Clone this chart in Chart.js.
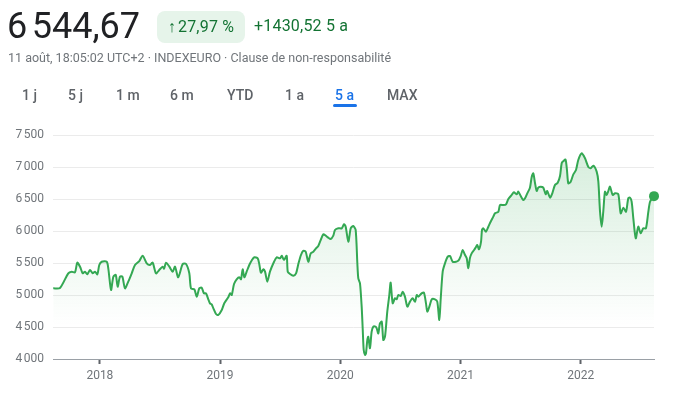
<!DOCTYPE html>
<html lang="fr">
<head>
<meta charset="utf-8">
<script src="https://cdn.jsdelivr.net/npm/chart.js@4.4.1/dist/chart.umd.min.js"></script>
<style>
  html, body { margin: 0; padding: 0; background: #fff; }
  body { width: 677px; height: 398px; position: relative; overflow: hidden; font-family: Roboto, "Noto Sans", Arial, sans-serif; }
  #chart { position: absolute; left: 0; top: 0; }
  .price { position: absolute; left: 7px; top: 4px; font-size: 36px; color: #202124; letter-spacing: -0.2px; line-height: 44px; }
  .badge { position: absolute; left: 157px; top: 11px; width: 88px; height: 32px; border-radius: 8px; background: #e6f4ea; color: #137333; font-size: 16px; line-height: 32px; text-align: center; letter-spacing: 0.2px; }
  .badge b { font-weight: 700; margin-right: 2px; }
  .delta { position: absolute; left: 254px; top: 16px; font-size: 16px; color: #137333; line-height: 20px; letter-spacing: 0.2px; }
  .sub { position: absolute; left: 8px; top: 50px; font-size: 12.5px; color: #70757a; line-height: 16px; }
  .tab { position: absolute; top: 86px; font-size: 14px; font-weight: 500; color: #5f6368; line-height: 18px; }
  .tab.on { color: #1a73e8; }
  .uline { position: absolute; left: 333px; top: 104px; width: 24px; height: 3px; border-radius: 2px; background: #1a73e8; }
</style>
</head>
<body>
<canvas id="chart" width="677" height="398"></canvas>
<div class="price">6&#x202F;544,67</div>
<div class="badge"><b>&#x2191;</b>27,97 %</div>
<div class="delta">+1430,52 5 a</div>
<div class="sub">11 août, 18:05:02 UTC+2 · INDEXEURO · Clause de non-responsabilité</div>
<div class="tab" style="left:22px">1 j</div>
<div class="tab" style="left:68px">5 j</div>
<div class="tab" style="left:116px">1 m</div>
<div class="tab" style="left:170px">6 m</div>
<div class="tab" style="left:227px">YTD</div>
<div class="tab" style="left:285px">1 a</div>
<div class="tab on" style="left:335px">5 a</div>
<div class="tab" style="left:387px">MAX</div>
<div class="uline"></div>
<script>
// Dates as decimal years (11 Aug 2017 .. 11 Aug 2022)
const dates = [
  2017.612,2017.668,2017.737,2017.766,2017.793,2017.812,2017.835,2017.857,2017.876,2017.895,
  2017.918,2017.940,2017.959,2017.979,2017.995,2018.015,2018.057,2018.070,2018.093,2018.112,
  2018.132,2018.148,2018.167,2018.187,2018.209,2018.236,2018.265,2018.292,2018.328,2018.356,
  2018.390,2018.417,2018.439,2018.467,2018.494,2018.523,2018.534,2018.550,2018.578,2018.606,
  2018.625,2018.652,2018.689,2018.717,2018.744,2018.758,2018.786,2018.806,2018.827,2018.847,
  2018.866,2018.883,2018.902,2018.916,2018.930,2018.944,2018.966,2018.985,2019.014,2019.035,
  2019.068,2019.083,2019.097,2019.116,2019.138,2019.160,2019.174,2019.188,2019.202,2019.221,
  2019.243,2019.263,2019.285,2019.313,2019.326,2019.340,2019.360,2019.374,2019.393,2019.415,
  2019.449,2019.471,2019.499,2019.513,2019.532,2019.554,2019.563,2019.582,2019.609,2019.632,
  2019.651,2019.673,2019.692,2019.712,2019.734,2019.754,2019.776,2019.798,2019.817,2019.837,
  2019.859,2019.879,2019.900,2019.920,2019.942,2019.956,2019.984,2020.012,2020.031,2020.045,
  2020.067,2020.087,2020.108,2020.128,2020.142,2020.150,2020.164,2020.178,2020.187,2020.195,
  2020.206,2020.214,2020.225,2020.233,2020.247,2020.261,2020.275,2020.293,2020.303,2020.316,
  2020.330,2020.345,2020.358,2020.372,2020.391,2020.408,2020.419,2020.436,2020.455,2020.469,
  2020.483,2020.503,2020.519,2020.538,2020.558,2020.580,2020.602,2020.622,2020.636,2020.649,
  2020.677,2020.696,2020.713,2020.724,2020.741,2020.761,2020.788,2020.807,2020.824,2020.835,
  2020.852,2020.871,2020.894,2020.913,2020.935,2020.963,2020.982,2021.002,2021.018,2021.038,
  2021.052,2021.065,2021.079,2021.093,2021.113,2021.129,2021.140,2021.154,2021.171,2021.179,
  2021.190,2021.212,2021.232,2021.251,2021.273,2021.287,2021.315,2021.329,2021.356,2021.379,
  2021.398,2021.426,2021.445,2021.468,2021.481,2021.501,2021.523,2021.537,2021.556,2021.578,
  2021.593,2021.606,2021.620,2021.634,2021.647,2021.667,2021.689,2021.709,2021.722,2021.745,
  2021.764,2021.786,2021.809,2021.828,2021.842,2021.855,2021.874,2021.886,2021.897,2021.917,
  2021.939,2021.961,2021.980,2022.009,2022.036,2022.063,2022.083,2022.105,2022.133,2022.147,
  2022.161,2022.175,2022.188,2022.202,2022.216,2022.230,2022.244,2022.266,2022.286,2022.313,
  2022.333,2022.355,2022.377,2022.396,2022.410,2022.424,2022.438,2022.458,2022.479,2022.499,
  2022.521,2022.543,2022.563,2022.577,2022.604,2022.610
];
// Index level (EURO STOXX 50)
const closes = [
  5105,5110,5339,5364,5354,5505,5442,5339,5364,5323,
  5391,5339,5364,5323,5469,5520,5520,5417,5078,5286,
  5313,5130,5286,5286,5104,5208,5339,5469,5530,5615,
  5495,5469,5505,5339,5391,5443,5411,5505,5443,5364,
  5443,5276,5484,5484,5339,5104,5088,4974,5104,5114,
  5026,5026,4932,4870,4854,4792,4703,4687,4766,4870,
  4964,5026,5000,5172,5245,5276,5245,5401,5276,5364,
  5469,5540,5589,5573,5484,5349,5401,5365,5208,5365,
  5520,5589,5573,5614,5547,5614,5364,5328,5302,5339,
  5484,5625,5692,5677,5520,5651,5677,5729,5766,5859,
  5948,5927,5896,5875,5927,6016,6042,6042,6105,6068,
  5833,6042,6078,6016,5495,5260,5182,4818,4453,4141,
  4063,4090,4297,4348,4167,4427,4505,4505,4479,4401,
  4557,4583,4297,4348,4740,5000,5193,4870,4948,4932,
  5000,4984,5052,4974,4818,4896,4948,4896,5000,4974,
  5026,5036,4870,4740,4818,4932,4932,4896,4609,4922,
  5365,5495,5599,5609,5520,5520,5536,5609,5703,5625,
  5573,5417,5580,5651,5703,5750,5781,5714,5833,6016,
  6042,5989,6067,6145,6224,6276,6302,6406,6406,6417,
  6500,6563,6604,6573,6615,6547,6484,6510,6589,6677,
  6849,6901,6750,6625,6677,6693,6677,6573,6625,6521,
  6589,6719,6755,6860,7060,7090,7117,6950,6745,6771,
  6885,6953,7109,7214,7136,7005,6979,7021,6927,6771,
  6302,6068,6302,6615,6563,6625,6693,6563,6589,6573,
  6276,6365,6302,6510,6521,6458,6198,5885,6068,5964,
  6042,6042,6302,6458,6536,6544.67
];
const xTickValues = [2018, 2019, 2020, 2021, 2022];
const xTickLabels = ['2018', '2019', '2020', '2021', '2022'];
const yTickValues = [4000, 4500, 5000, 5500, 6000, 6500, 7000, 7500];
const yTickLabels = ['4\u202F000', '4\u202F500', '5\u202F000', '5\u202F500', '6\u202F000', '6\u202F500', '7\u202F000', '7\u202F500'];

const GREEN = '#34a853';
const points = dates.map((d, i) => ({ x: d, y: closes[i] }));
const lastIdx = points.length - 1;

new Chart(document.getElementById('chart'), {
  type: 'line',
  data: {
    datasets: [{
      data: points,
      borderColor: GREEN,
      borderWidth: 2,
      tension: 0.25,
      fill: 'start',
      clip: false,
      backgroundColor: (ctx) => {
        const area = ctx.chart.chartArea;
        if (!area) return 'rgba(52,168,83,0.1)';
        const g = ctx.chart.ctx.createLinearGradient(0, area.top, 0, area.bottom);
        g.addColorStop(0, 'rgba(52,168,83,0.22)');
        g.addColorStop(0.55, 'rgba(52,168,83,0.08)');
        g.addColorStop(0.85, 'rgba(52,168,83,0.0)');
        g.addColorStop(1, 'rgba(52,168,83,0.0)');
        return g;
      },
      pointRadius: (ctx) => ctx.dataIndex === lastIdx ? 5 : 0,
      pointHoverRadius: 0,
      pointBackgroundColor: GREEN,
      pointBorderColor: GREEN,
      pointBorderWidth: 0
    }]
  },
  options: {
    responsive: false,
    animation: false,
    events: [],
    layout: { padding: { left: 0, right: 23, top: 135, bottom: 0 } },
    plugins: { legend: { display: false }, tooltip: { enabled: false } },
    scales: {
      x: {
        type: 'linear',
        min: 2017.61,
        max: 2022.61,
        afterBuildTicks: (scale) => { scale.ticks = xTickValues.map(v => ({ value: v })); },
        afterFit: (scale) => { scale.height = 39; },
        ticks: {
          autoSkip: false,
          maxRotation: 0,
          padding: 5,
          color: '#70757a',
          font: { family: 'Roboto', size: 12 },
          callback: (v) => { const i = xTickValues.indexOf(v); return i >= 0 ? xTickLabels[i] : ''; }
        },
        grid: { drawOnChartArea: false, drawTicks: true, tickLength: 5, tickWidth: 2, tickColor: '#5f6368' },
        border: { display: true, color: '#9aa0a6', width: 1 }
      },
      y: {
        min: 4000,
        max: 7500,
        afterBuildTicks: (scale) => { scale.ticks = yTickValues.map(v => ({ value: v })); },
        afterFit: (scale) => { scale.width = 53; },
        ticks: {
          padding: 9,
          color: '#70757a',
          font: { family: 'Roboto', size: 12 },
          callback: (v) => { const i = yTickValues.indexOf(v); return i >= 0 ? yTickLabels[i] : ''; }
        },
        grid: { color: '#ebebeb', lineWidth: 1, drawTicks: false },
        border: { display: false }
      }
    }
  }
});
</script>
</body>
</html>
